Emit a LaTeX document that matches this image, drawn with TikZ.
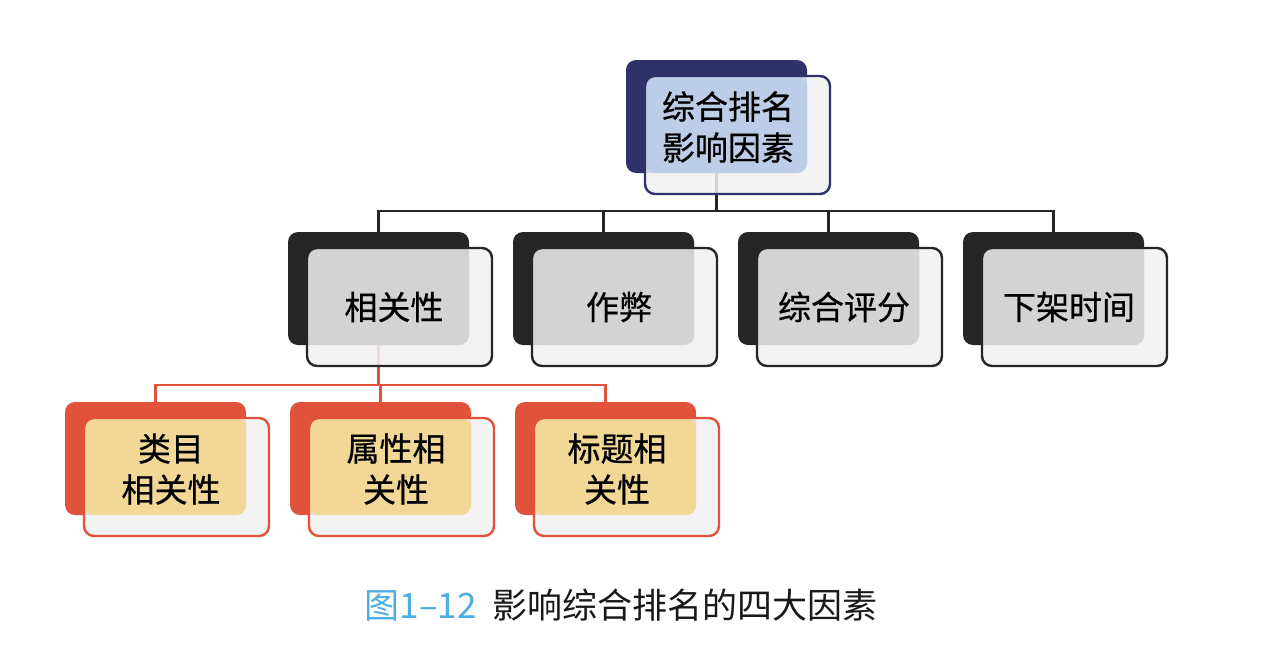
\documentclass[tikz,border=0pt]{standalone}
\usepackage{fontspec}
\setmainfont{Noto Sans CJK SC}
\newfontfamily\boxfont{Noto Sans CJK SC}[FakeBold=0.6]
\usepackage{xcolor}
\usepackage{tikz}
\usetikzlibrary{calc,positioning}
\definecolor{navy}{HTML}{2E3269}
\definecolor{skyfill}{HTML}{BCCDE8}
\definecolor{ink}{HTML}{262626}
\definecolor{greyfill}{HTML}{D3D3D3}
\definecolor{brick}{HTML}{E0533A}
\definecolor{wheat}{HTML}{F2D896}
\definecolor{paper}{HTML}{F1F1F3}
\definecolor{capblue}{HTML}{4DAEE3}
\newcommand{\frontbox}[5][]{%
  \coordinate (#2-a) at ($(#2.north west)+(19,16)$);
  \coordinate (#2-b) at ($(#2-a)+(185,118)$);
  \fill[paper,fill opacity=.85,rounded corners=10pt] (#2-a) rectangle (#2-b);
  \fill[#4,rounded corners=10pt] (#2-a) rectangle (#2.south east);
  \draw[#3,line width=2.4pt,rounded corners=10pt] (#2-a) rectangle (#2-b);
  \node[boxtext,#1] (#2-t) at ($(#2.north west)!.5!(#2-b)$) {#5};}

\begin{document}
\begin{tikzpicture}[x=1pt,y=-1pt,
  back/.style={rectangle,rounded corners=10pt,minimum width=181pt,minimum height=113pt,inner sep=0pt,outer sep=0pt,anchor=north west},
  boxtext/.style={font=\boxfont\fontsize{33}{41}\selectfont,align=center,text=black},
  oneline/.style={xshift=4pt,yshift=-8pt},
  tree/.style={ink,line width=2.8pt},
  subtree/.style={brick,line width=2.4pt}]
  \fill[white] (0,0) rectangle (1276,648);
  \useasboundingbox (0,0) rectangle (1276,648);
  \node[back,fill=navy] (rank) at (626,60) {};
  \node[back,fill=ink] (rel) at (288,232) {};
  \node[back,fill=ink] (cheat) at (513,232) {};
  \node[back,fill=ink] (score) at (738,232) {};
  \node[back,fill=ink] (offshelf) at (963,232) {};
  \node[back,fill=brick] (cat) at (65,402) {};
  \node[back,fill=brick] (attr) at (290,402) {};
  \node[back,fill=brick] (title) at (515,402) {};
  \foreach \n in {rel,cheat,score,offshelf}
    \draw[tree] (rank.south) -- ++(0,38) -| (\n.north);
  \foreach \n in {cat,attr,title}
    \draw[subtree] (rel.south) -- ++(0,40) -| (\n.north);
  \frontbox{rank}{navy}{skyfill}{综合排名\\影响因素}
  \frontbox[oneline]{rel}{ink}{greyfill}{相关性}
  \frontbox[oneline]{cheat}{ink}{greyfill}{作弊}
  \frontbox[oneline]{score}{ink}{greyfill}{综合评分}
  \frontbox[oneline]{offshelf}{ink}{greyfill}{下架时间}
  \frontbox[xshift=4pt]{cat}{brick}{wheat}{类目\\相关性}
  \frontbox[xshift=4pt]{attr}{brick}{wheat}{属性相\\关性}
  \frontbox{title}{brick}{wheat}{标题相\\关性}
  \node[font=\fontsize{35}{40}\selectfont,text=black!90] (caption) at (621,605)
    {\textcolor{capblue}{图1–12}\hspace{0.45em}影响综合排名的四大因素};
\end{tikzpicture}
\end{document}
